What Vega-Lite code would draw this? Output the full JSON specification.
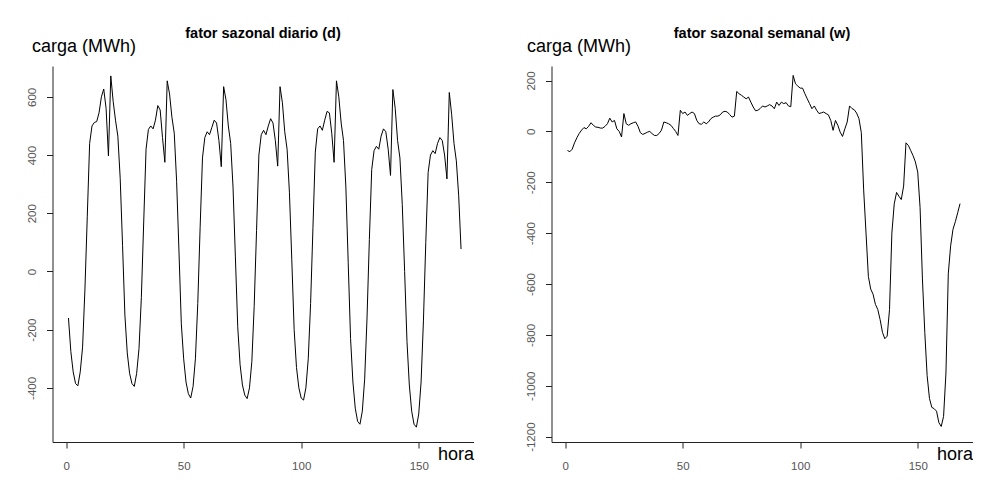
{
  "$schema": "https://vega.github.io/schema/vega-lite/v6.json",
  "background": "white",
  "autosize": {"type": "pad"},
  "padding": {"left": 25.5, "top": 26, "right": 0, "bottom": 0},
  "config": {
    "view": {"stroke": null},
    "font": "Liberation Sans",
    "axis": {"grid": false, "domainColor": "#222", "tickColor": "#222", "labelColor": "#555", "labelFontSize": 11.5, "labelFont": "Liberation Sans", "tickSize": 6, "domainWidth": 1, "tickWidth": 1, "titleFont": "Liberation Sans", "titleFontSize": 18, "titleFontWeight": "normal", "titleColor": "#000", "labelFlush": false, "labelOverlap": false, "labelExpr": "'' + datum.value"},
    "title": {"font": "Liberation Sans", "fontSize": 14.5, "fontWeight": "bold", "color": "#000", "frame": "group", "anchor": "middle", "offset": -4.5}
  },
  "datasets": {
    "diario": [
      {"hora":1,"carga":-160},{"hora":2,"carga":-275},{"hora":3,"carga":-345},{"hora":4,"carga":-385},{"hora":5,"carga":-393},{"hora":6,"carga":-345},{"hora":7,"carga":-260},{"hora":8,"carga":-60},{"hora":9,"carga":190},{"hora":10,"carga":440},{"hora":11,"carga":500},{"hora":12,"carga":512},{"hora":13,"carga":515},{"hora":14,"carga":545},{"hora":15,"carga":600},{"hora":16,"carga":627},{"hora":17,"carga":560},{"hora":18,"carga":397},{"hora":19,"carga":672},{"hora":20,"carga":585},{"hora":21,"carga":520},{"hora":22,"carga":465},{"hora":23,"carga":320},{"hora":24,"carga":90},
      {"hora":25,"carga":-150},{"hora":26,"carga":-280},{"hora":27,"carga":-350},{"hora":28,"carga":-385},{"hora":29,"carga":-395},{"hora":30,"carga":-350},{"hora":31,"carga":-265},{"hora":32,"carga":-90},{"hora":33,"carga":170},{"hora":34,"carga":420},{"hora":35,"carga":488},{"hora":36,"carga":500},{"hora":37,"carga":490},{"hora":38,"carga":520},{"hora":39,"carga":570},{"hora":40,"carga":555},{"hora":41,"carga":460},{"hora":42,"carga":375},{"hora":43,"carga":655},{"hora":44,"carga":610},{"hora":45,"carga":530},{"hora":46,"carga":475},{"hora":47,"carga":310},{"hora":48,"carga":70},
      {"hora":49,"carga":-180},{"hora":50,"carga":-300},{"hora":51,"carga":-380},{"hora":52,"carga":-420},{"hora":53,"carga":-435},{"hora":54,"carga":-395},{"hora":55,"carga":-300},{"hora":56,"carga":-110},{"hora":57,"carga":150},{"hora":58,"carga":390},{"hora":59,"carga":460},{"hora":60,"carga":480},{"hora":61,"carga":470},{"hora":62,"carga":495},{"hora":63,"carga":520},{"hora":64,"carga":510},{"hora":65,"carga":450},{"hora":66,"carga":360},{"hora":67,"carga":635},{"hora":68,"carga":590},{"hora":69,"carga":500},{"hora":70,"carga":440},{"hora":71,"carga":290},{"hora":72,"carga":50},
      {"hora":73,"carga":-190},{"hora":74,"carga":-320},{"hora":75,"carga":-390},{"hora":76,"carga":-425},{"hora":77,"carga":-437},{"hora":78,"carga":-400},{"hora":79,"carga":-310},{"hora":80,"carga":-120},{"hora":81,"carga":140},{"hora":82,"carga":400},{"hora":83,"carga":470},{"hora":84,"carga":485},{"hora":85,"carga":470},{"hora":86,"carga":500},{"hora":87,"carga":525},{"hora":88,"carga":510},{"hora":89,"carga":450},{"hora":90,"carga":362},{"hora":91,"carga":635},{"hora":92,"carga":580},{"hora":93,"carga":480},{"hora":94,"carga":420},{"hora":95,"carga":270},{"hora":96,"carga":40},
      {"hora":97,"carga":-200},{"hora":98,"carga":-330},{"hora":99,"carga":-400},{"hora":100,"carga":-435},{"hora":101,"carga":-442},{"hora":102,"carga":-400},{"hora":103,"carga":-300},{"hora":104,"carga":-110},{"hora":105,"carga":150},{"hora":106,"carga":410},{"hora":107,"carga":490},{"hora":108,"carga":500},{"hora":109,"carga":485},{"hora":110,"carga":520},{"hora":111,"carga":550},{"hora":112,"carga":545},{"hora":113,"carga":475},{"hora":114,"carga":375},{"hora":115,"carga":655},{"hora":116,"carga":600},{"hora":117,"carga":510},{"hora":118,"carga":450},{"hora":119,"carga":290},{"hora":120,"carga":30},
      {"hora":121,"carga":-230},{"hora":122,"carga":-380},{"hora":123,"carga":-470},{"hora":124,"carga":-515},{"hora":125,"carga":-525},{"hora":126,"carga":-480},{"hora":127,"carga":-370},{"hora":128,"carga":-160},{"hora":129,"carga":110},{"hora":130,"carga":350},{"hora":131,"carga":415},{"hora":132,"carga":430},{"hora":133,"carga":420},{"hora":134,"carga":465},{"hora":135,"carga":490},{"hora":136,"carga":480},{"hora":137,"carga":420},{"hora":138,"carga":330},{"hora":139,"carga":625},{"hora":140,"carga":560},{"hora":141,"carga":450},{"hora":142,"carga":390},{"hora":143,"carga":230},{"hora":144,"carga":0},
      {"hora":145,"carga":-240},{"hora":146,"carga":-390},{"hora":147,"carga":-480},{"hora":148,"carga":-525},{"hora":149,"carga":-535},{"hora":150,"carga":-490},{"hora":151,"carga":-380},{"hora":152,"carga":-170},{"hora":153,"carga":100},{"hora":154,"carga":340},{"hora":155,"carga":400},{"hora":156,"carga":415},{"hora":157,"carga":405},{"hora":158,"carga":440},{"hora":159,"carga":460},{"hora":160,"carga":450},{"hora":161,"carga":400},{"hora":162,"carga":318},{"hora":163,"carga":615},{"hora":164,"carga":540},{"hora":165,"carga":440},{"hora":166,"carga":380},{"hora":167,"carga":260},{"hora":168,"carga":77}
    ],
    "semanal": [
      {"hora":1,"carga":-75},{"hora":2,"carga":-80},{"hora":3,"carga":-70},{"hora":4,"carga":-45},{"hora":5,"carga":-25},{"hora":6,"carga":-8},{"hora":7,"carga":5},{"hora":8,"carga":15},{"hora":9,"carga":10},{"hora":10,"carga":20},{"hora":11,"carga":34},{"hora":12,"carga":24},{"hora":13,"carga":17},{"hora":14,"carga":16},{"hora":15,"carga":13},{"hora":16,"carga":13},{"hora":17,"carga":20},{"hora":18,"carga":30},{"hora":19,"carga":52},{"hora":20,"carga":37},{"hora":21,"carga":43},{"hora":22,"carga":10},{"hora":23,"carga":0},{"hora":24,"carga":-22},
      {"hora":25,"carga":70},{"hora":26,"carga":30},{"hora":27,"carga":24},{"hora":28,"carga":30},{"hora":29,"carga":34},{"hora":30,"carga":37},{"hora":31,"carga":20},{"hora":32,"carga":-5},{"hora":33,"carga":-12},{"hora":34,"carga":-8},{"hora":35,"carga":-3},{"hora":36,"carga":0},{"hora":37,"carga":-9},{"hora":38,"carga":-16},{"hora":39,"carga":-16},{"hora":40,"carga":-8},{"hora":41,"carga":5},{"hora":42,"carga":37},{"hora":43,"carga":34},{"hora":44,"carga":30},{"hora":45,"carga":24},{"hora":46,"carga":12},{"hora":47,"carga":0},{"hora":48,"carga":-16},
      {"hora":49,"carga":83},{"hora":50,"carga":70},{"hora":51,"carga":76},{"hora":52,"carga":63},{"hora":53,"carga":70},{"hora":54,"carga":76},{"hora":55,"carga":70},{"hora":56,"carga":43},{"hora":57,"carga":30},{"hora":58,"carga":28},{"hora":59,"carga":37},{"hora":60,"carga":30},{"hora":61,"carga":37},{"hora":62,"carga":50},{"hora":63,"carga":56},{"hora":64,"carga":60},{"hora":65,"carga":60},{"hora":66,"carga":65},{"hora":67,"carga":76},{"hora":68,"carga":79},{"hora":69,"carga":76},{"hora":70,"carga":66},{"hora":71,"carga":56},{"hora":72,"carga":60},
      {"hora":73,"carga":157},{"hora":74,"carga":148},{"hora":75,"carga":142},{"hora":76,"carga":135},{"hora":77,"carga":128},{"hora":78,"carga":135},{"hora":79,"carga":115},{"hora":80,"carga":96},{"hora":81,"carga":81},{"hora":82,"carga":83},{"hora":83,"carga":90},{"hora":84,"carga":100},{"hora":85,"carga":96},{"hora":86,"carga":100},{"hora":87,"carga":105},{"hora":88,"carga":100},{"hora":89,"carga":89},{"hora":90,"carga":115},{"hora":91,"carga":102},{"hora":92,"carga":115},{"hora":93,"carga":109},{"hora":94,"carga":113},{"hora":95,"carga":100},{"hora":96,"carga":97},
      {"hora":97,"carga":220},{"hora":98,"carga":187},{"hora":99,"carga":178},{"hora":100,"carga":170},{"hora":101,"carga":170},{"hora":102,"carga":148},{"hora":103,"carga":128},{"hora":104,"carga":109},{"hora":105,"carga":89},{"hora":106,"carga":100},{"hora":107,"carga":83},{"hora":108,"carga":70},{"hora":109,"carga":73},{"hora":110,"carga":76},{"hora":111,"carga":70},{"hora":112,"carga":65},{"hora":113,"carga":43},{"hora":114,"carga":4},{"hora":115,"carga":43},{"hora":116,"carga":24},{"hora":117,"carga":-3},{"hora":118,"carga":-20},{"hora":119,"carga":10},{"hora":120,"carga":37},
      {"hora":121,"carga":100},{"hora":122,"carga":90},{"hora":123,"carga":85},{"hora":124,"carga":72},{"hora":125,"carga":50},{"hora":126,"carga":-5},{"hora":127,"carga":-230},{"hora":128,"carga":-400},{"hora":129,"carga":-570},{"hora":130,"carga":-620},{"hora":131,"carga":-640},{"hora":132,"carga":-680},{"hora":133,"carga":-700},{"hora":134,"carga":-740},{"hora":135,"carga":-790},{"hora":136,"carga":-815},{"hora":137,"carga":-805},{"hora":138,"carga":-700},{"hora":139,"carga":-400},{"hora":140,"carga":-285},{"hora":141,"carga":-240},{"hora":142,"carga":-255},{"hora":143,"carga":-268},{"hora":144,"carga":-215},
      {"hora":145,"carga":-45},{"hora":146,"carga":-55},{"hora":147,"carga":-75},{"hora":148,"carga":-95},{"hora":149,"carga":-120},{"hora":150,"carga":-160},{"hora":151,"carga":-300},{"hora":152,"carga":-580},{"hora":153,"carga":-790},{"hora":154,"carga":-960},{"hora":155,"carga":-1050},{"hora":156,"carga":-1085},{"hora":157,"carga":-1090},{"hora":158,"carga":-1100},{"hora":159,"carga":-1145},{"hora":160,"carga":-1160},{"hora":161,"carga":-1120},{"hora":162,"carga":-950},{"hora":163,"carga":-560},{"hora":164,"carga":-450},{"hora":165,"carga":-385},{"hora":166,"carga":-355},{"hora":167,"carga":-320},{"hora":168,"carga":-284}
    ]
  },
  "spacing": 78,
  "bounds": "flush",
  "hconcat": [
    {
      "width": 421,
      "height": 376,
      "title": {"text": "fator sazonal diario (d)"},
      "data": {"name": "diario"},
      "mark": {"type": "line", "color": "#000", "strokeWidth": 1},
      "encoding": {
        "x": {"field": "hora", "type": "quantitative", "scale": {"domain": [-5.8, 173.3], "nice": false, "zero": false},
          "axis": {"values": [0, 50, 100, 150], "labelPadding": 12.5, "title": "hora", "titleAnchor": "end", "titleAlign": "right", "titleBaseline": "middle", "titleX": 421, "titleY": 12}},
        "y": {"field": "carga", "type": "quantitative", "scale": {"domain": [-586, 706], "nice": false, "zero": false},
          "axis": {"values": [-400, -200, 0, 200, 400, 600], "labelAngle": -90, "labelAlign": "center", "labelBaseline": "alphabetic", "labelPadding": 11.5, "title": "carga (MWh)", "titleAngle": 0, "titleAlign": "left", "titleBaseline": "middle", "titleX": -21, "titleY": -20}}
      }
    },
    {
      "width": 421,
      "height": 376,
      "title": {"text": "fator sazonal semanal (w)"},
      "data": {"name": "semanal"},
      "mark": {"type": "line", "color": "#000", "strokeWidth": 1},
      "encoding": {
        "x": {"field": "hora", "type": "quantitative", "scale": {"domain": [-5.8, 173.3], "nice": false, "zero": false},
          "axis": {"values": [0, 50, 100, 150], "labelPadding": 12.5, "title": "hora", "titleAnchor": "end", "titleAlign": "right", "titleBaseline": "middle", "titleX": 421, "titleY": 12}},
        "y": {"field": "carga", "type": "quantitative", "scale": {"domain": [-1221, 257], "nice": false, "zero": false},
          "axis": {"values": [-1200, -1000, -800, -600, -400, -200, 0, 200], "labelAngle": -90, "labelAlign": "center", "labelBaseline": "alphabetic", "labelPadding": 11.5, "title": "carga (MWh)", "titleAngle": 0, "titleAlign": "left", "titleBaseline": "middle", "titleX": -25, "titleY": -20}}
      }
    }
  ]
}
